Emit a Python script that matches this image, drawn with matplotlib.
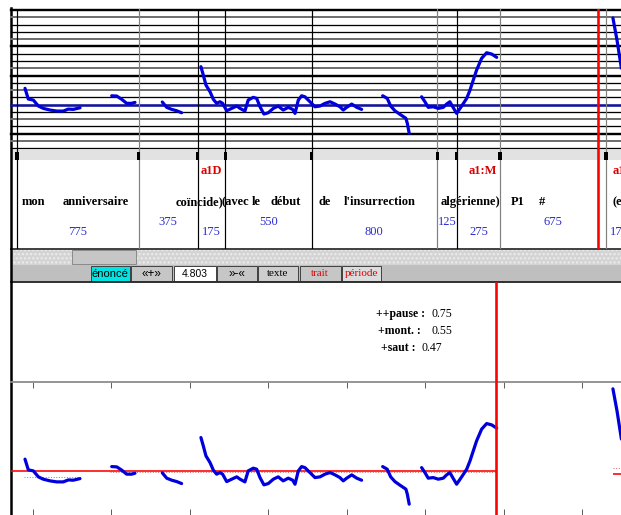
import matplotlib
matplotlib.use("Agg")
import matplotlib.pyplot as plt
import numpy as np
from matplotlib.patches import Rectangle

# ---- data ----
# segment durations (ms), written under each segment
durations = [775, 375, 175, 550, 800, 125, 275, 675, 175]
boundary_colors = ["black", "#808080", "black", "black", "black",
                   "#808080", "black", "#808080", "#808080", "#808080"]

words = ["mon", "anniversaire", "coïncide)", "(avec", "le", "début", "de",
         "l'insurrection", "algérienne)", "P1", "#"]
word_times = [105, 500, 1162, 1391, 1521, 1709, 1958, 2308, 2887, 3186, 3339]
tags = ["a1D", "a1:M"]
tag_times = [1238, 2963]
edge_word = "(e"
edge_tag = "a1"
edge_time = 3794

cursor_top = 3700
cursor_low = 3050
tick_times = [100, 600, 1100, 1600, 2100, 2600, 3100, 3600]

# pitch contour, time (ms) / semitones relative to the blue reference line
pitch_time = [
    [51, 72, 104, 136, 167, 210, 253, 295, 327, 358, 401],
    [603, 635, 667, 698, 730, 751],
    [925, 953, 985, 1017, 1048],
    [1171, 1186, 1203, 1229, 1250, 1271, 1292, 1309, 1335, 1367,
     1399, 1420, 1451, 1472, 1504, 1526, 1547, 1572, 1600, 1632,
     1663, 1695, 1727, 1755, 1770, 1791, 1812, 1833, 1865, 1897,
     1929, 1961, 1993, 2025, 2056, 2077, 2099, 2131, 2163, 2194],
    [2328, 2357, 2379, 2406, 2438, 2476, 2485, 2491, 2497],
    [2576, 2597, 2618, 2650, 2682, 2714, 2735, 2756, 2774, 2799,
     2831, 2863, 2884, 2905, 2926, 2958, 2990, 3022, 3054],
    [3794, 3820, 3848],
]
pitch_st = [
    [2.24, 0.77, 0.63, -0.19, -0.51, -0.74, -0.88, -0.88, -0.61, -0.65, -0.43],
    [1.22, 1.18, 0.73, 0.18, 0.18, 0.31],
    [0.36, -0.37, -0.65, -0.84, -1.11],
    [5.21, 4.07, 2.69, 1.77, 0.73, 0.18, 0.40, 0.18, -0.84, -0.51,
     -0.19, -0.51, -0.88, 0.63, 1.00, 0.86, -0.29, -1.29, -1.11, -0.51,
     -0.19, -0.74, -0.37, -0.65, -1.20, 0.63, 1.22, 1.08, 0.40, -0.29,
     -0.19, 0.18, 0.40, 0.08, -0.29, -0.74, -0.37, 0.08, -0.37, -0.65],
    [1.22, 0.86, -0.19, -0.84, -1.33, -1.88, -2.57, -3.26, -3.94],
    [1.08, 0.40, -0.37, -0.29, -0.51, -0.37, 0.08, 0.40, -0.29, -1.20,
     -0.19, 0.86, 2.00, 3.38, 4.75, 6.36, 7.13, 6.95, 6.50],
    [11.90, 8.87, 5.0],
]

low_baseline = 0.62
mean_st = [-0.25, 0.45]
mean_from = [45, 590]
mean_to = [401, 3050]
edge_levels = [0.2, 1.07]

info_labels = ["++pause :", "+mont. :", "+saut :"]
info_values = ["0.75", "0.55", "0.47"]
buttons = ["énoncé", "«+»", "4.803", "»-«", "texte", "trait", "période"]

# ---- layout helpers (pixel based, 621x515 screen) ----
W, H = 621, 515
PX = 0.72  # points per pixel at dpi 100
T0, T1 = -38.2, 3845.4
SERIF = "Liberation Serif"


def box(x0, y0, x1, y1):
    return [x0 / W, 1 - y1 / H, (x1 - x0) / W, (y1 - y0) / H]


boundaries = np.concatenate([[0], np.cumsum(durations)])

fig = plt.figure(figsize=(W / 100, H / 100), dpi=100)
fig.patch.set_facecolor("white")

bg = fig.add_axes([0, 0, 1, 1])
bg.set_xlim(0, W)
bg.set_ylim(H, 0)
bg.axis("off")

# marker strip, scroll strip, toolbar
bg.add_patch(Rectangle((11, 150), 610, 10, facecolor="#e2e2e2", lw=0))
bg.add_patch(Rectangle((11, 248.5), 610, 16.5, facecolor="#d4d4d4",
                       edgecolor="#ededed", hatch="....", lw=0))
bg.add_patch(Rectangle((72, 250), 64, 14, facecolor="#c6c6c6",
                       edgecolor="#8a8a8a", lw=0.7))
bg.add_patch(Rectangle((11, 265), 610, 17, facecolor="#bfbfbf", lw=0))

btn_x = [90.5, 130.5, 174, 216.5, 258, 299.5, 342]
btn_w = [39, 41.5, 41.5, 40.5, 40, 41.5, 39]
btn_face = ["#00e4e4", "#c6c6c6", "white", "#c6c6c6", "#cdcdcd", "#c6c6c6", "#dcdcdc"]
btn_color = ["black"] * 5 + ["#e00000"] * 2
btn_font = ["Liberation Sans"] * 4 + [SERIF] * 3
btn_size = [8, 8.5, 7.5, 8.5, 8, 8, 8]
for lab, x, w, fc, c, fam, fs in zip(buttons, btn_x, btn_w, btn_face,
                                     btn_color, btn_font, btn_size):
    bg.add_patch(Rectangle((x, 266), w, 15, facecolor=fc, edgecolor="#404040", lw=0.7))
    bg.text(x + w / 2, 273.6, lab, ha="center", va="center", fontsize=fs,
            color=c, family=fam)

bg.plot([11, 621], [282, 282], color="#303030", lw=1.4)
bg.plot([11, 621], [248.5, 248.5], color="#404040", lw=1.4)
bg.plot([11, 11], [8, 515], color="black", lw=1.8)

# info block
info_lab_x = [376, 378, 381]
info_val_x = [432, 432, 421]
for k, (lab, val) in enumerate(zip(info_labels, info_values)):
    y = 314 + 17 * k
    bg.text(info_lab_x[k], y, lab, ha="left", va="center", fontsize=8.5,
            fontweight="bold", family=SERIF)
    bg.text(info_val_x[k], y, val, ha="left", va="center", fontsize=8.5, family=SERIF)

# ---- top pitch panel ----
ax_top = fig.add_axes(box(11, 9, 621, 150))
ax_top.set_xlim(T0, T1)
ax_top.set_ylim(-6.23, 13.14)
ax_top.axis("off")
ax_top.patch.set_alpha(0)
for i in range(20):
    s = 13 - i
    if i == 13:
        col, lw = "#14149a", 2.6 * PX
    elif i in (0, 5, 9, 17):
        col, lw = "black", 2.4 * PX
    elif i in (1, 4, 8, 11, 15, 18):
        col, lw = "#707070", 2.0 * PX
    else:
        col, lw = "black", 1.3 * PX
    ax_top.axhline(s, color=col, lw=lw, zorder=1, clip_on=False)
for b, c in zip(boundaries, boundary_colors):
    ax_top.axvline(b, color=c, lw=1.2 * PX, zorder=1.5)
ax_top.axvline(cursor_top, color="#ff0000", lw=2.6 * PX, zorder=4)
for t, s in zip(pitch_time, pitch_st):
    ax_top.plot(t, s, color="#0000dc", lw=2.3, solid_capstyle="round",
                solid_joinstyle="round", zorder=3)

# ---- tier panel ----
ax_tier = fig.add_axes(box(11, 150, 621, 248.5))
ax_tier.set_xlim(T0, T1)
ax_tier.set_ylim(248.5, 150)
ax_tier.axis("off")
ax_tier.patch.set_alpha(0)
for b, c in zip(boundaries, boundary_colors):
    ax_tier.axvline(b, color=c, lw=1.2 * PX, zorder=1)
ax_tier.bar(boundaries, 8, width=20, bottom=152, color="black", zorder=3)
ax_tier.axvline(cursor_top, color="#ff0000", lw=2.6 * PX, zorder=4)

for w, t in zip(words, word_times):
    ax_tier.text(t, 202, w, ha="center", va="center", fontsize=9,
                 fontweight="bold", family=SERIF)
ax_tier.text(edge_time, 202, edge_word, ha="left", va="center", fontsize=9,
             fontweight="bold", family=SERIF, clip_on=True)
for tg, t in zip(tags, tag_times):
    ax_tier.text(t, 171, tg, ha="center", va="center", fontsize=9,
                 fontweight="bold", color="#dd0000", family=SERIF)
ax_tier.text(edge_time, 171, edge_tag, ha="left", va="center", fontsize=9,
             fontweight="bold", color="#dd0000", family=SERIF, clip_on=True)
centers = (boundaries[:-1] + boundaries[1:]) / 2
for k, (c, d) in enumerate(zip(centers, durations)):
    ax_tier.text(c, 232 if k % 2 == 0 else 222, str(d), ha="center", va="center",
                 fontsize=9, color="#2a2ad0", family=SERIF, clip_on=True)

# ---- lower pitch panel ----
ax_low = fig.add_axes(box(11, 382, 621, 515))
ax_low.set_xlim(T0, T1)
ax_low.set_ylim(-5.43, 12.84)
ax_low.patch.set_alpha(0)
for side in ("left", "right", "bottom"):
    ax_low.spines[side].set_visible(False)
ax_low.spines["top"].set_color("#8c8c8c")
ax_low.spines["top"].set_linewidth(1.8 * PX)
ax_low.set_yticks([])
ax_low.set_xticks(tick_times)
ax_low.tick_params(axis="x", direction="in", length=6 * PX, width=1.0 * PX,
                   color="#606060", top=True, bottom=True,
                   labelbottom=False, labeltop=False)

ax_low.hlines(low_baseline, T0, cursor_low, color="#ff0000", lw=1.6 * PX, zorder=2)
for s, a, b in zip(mean_st, mean_from, mean_to):
    ax_low.hlines(s, a, b, color="#d87070", lw=1.0 * PX, linestyles=":", zorder=2)
ax_low.hlines(edge_levels[0], edge_time, T1, color="#ff0000", lw=1.6 * PX)
ax_low.hlines(edge_levels[1], edge_time, T1, color="#d87070", lw=1.0 * PX, linestyles=":")
for t, s in zip(pitch_time, pitch_st):
    ax_low.plot(t, s, color="#0000dc", lw=2.3, solid_capstyle="round",
                solid_joinstyle="round", zorder=3)
ax_low.axvline(cursor_low, ymin=0, ymax=(515 - 283) / (515 - 382),
               color="#ff0000", lw=2.6 * PX, clip_on=False, zorder=4)

fig.savefig("out.png", dpi=100)
